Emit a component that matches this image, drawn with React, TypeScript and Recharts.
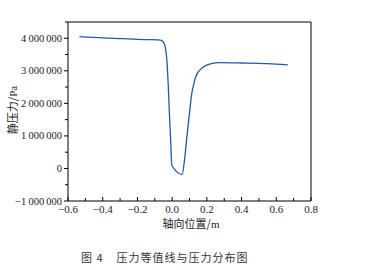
import React from 'react';
import { LineChart, Line, XAxis, YAxis, ReferenceLine } from 'recharts';

// axial position (m) and static pressure (Pa)
const positions = [
  -0.534, -0.4, -0.28, -0.15, -0.08, -0.06, -0.05, -0.04, -0.03, -0.022, -0.015, -0.008, -0.002,
  0.058, 0.071, 0.085, 0.1, 0.113, 0.123, 0.133, 0.145, 0.161, 0.19, 0.22, 0.277, 0.4, 0.55, 0.666,
];
const pressures = [
  4050000, 4010000, 3990000, 3960000, 3950000, 3930000, 3880000, 3740000, 3300000, 2500000, 1600000, 800000, 100000,
  -180000, 250000, 970000, 1700000, 2300000, 2550000, 2770000, 2920000, 3030000, 3150000, 3210000, 3250000, 3240000, 3220000, 3180000,
];

const xTicks = [-0.6, -0.5, -0.4, -0.3, -0.2, -0.1, 0, 0.1, 0.2, 0.3, 0.4, 0.5, 0.6, 0.7, 0.8];
const xLabels = ['\u22120.6', '\u22120.4', '\u22120.2', '0.0', '0.2', '0.4', '0.6', '0.8'];
const yTicks = [
  -1000000, -500000, 0, 500000, 1000000, 1500000, 2000000, 2500000, 3000000, 3500000, 4000000, 4500000,
];
const yLabels = ['\u22121\u2009000\u2009000', '0', '1\u2009000\u2009000', '2\u2009000\u2009000', '3\u2009000\u2009000', '4\u2009000\u2009000'];

const data = positions.map((x, i) => ({ x, p: pressures[i] }));

const serif = '"Liberation Serif", "DejaVu Serif", serif';
const cjk = '"Noto Sans CJK SC", sans-serif';

function XTick(props: any) {
  const { x, y, index } = props;
  const major = index % 2 === 0;
  return (
    <g>
      <line x1={x} x2={x} y1={y} y2={y - (major ? 4 : 3)} stroke="#000" strokeWidth={1} />
      {major && (
        <text x={x} y={y + 12} textAnchor="middle" fontSize={11} fontFamily={serif} fill="#222">
          {xLabels[index / 2]}
        </text>
      )}
    </g>
  );
}

function YTick(props: any) {
  const { x, y, index } = props;
  const major = index % 2 === 0;
  return (
    <g>
      <line x1={x} x2={x - (major ? 4 : 3)} y1={y} y2={y} stroke="#000" strokeWidth={1} />
      {major && (
        <text x={x - 6} y={y + 3.5} textAnchor="end" fontSize={10.5} fontFamily={serif} fill="#222">
          {yLabels[index / 2]}
        </text>
      )}
    </g>
  );
}

export default function App() {
  return (
    <div style={{ position: 'relative', width: 365, height: 270, background: '#fff' }}>
      <style>{'body{margin:0}'}</style>
      <LineChart width={365} height={270} data={data} margin={{ top: 22, right: 54, bottom: 49, left: 8 }}>
        <XAxis
          dataKey="x"
          type="number"
          domain={[-0.6, 0.8]}
          ticks={xTicks}
          interval={0}
          tickLine={false}
          tickSize={0}
          tickMargin={0}
          height={20}
          axisLine={{ stroke: '#000', strokeWidth: 1 }}
          tick={<XTick />}
        />
        <YAxis
          type="number"
          domain={[-1000000, 4500000]}
          ticks={yTicks}
          interval={0}
          tickLine={false}
          tickSize={0}
          tickMargin={0}
          width={60}
          axisLine={{ stroke: '#000', strokeWidth: 1 }}
          tick={<YTick />}
        />
        <ReferenceLine x={0.8} stroke="#000" strokeWidth={1} />
        <ReferenceLine y={4500000} stroke="#000" strokeWidth={1} />
        <Line
          dataKey="p"
          type="monotone"
          stroke="#1f5aa8"
          strokeWidth={1.3}
          dot={false}
          isAnimationActive={false}
        />
      </LineChart>
      <div
        style={{
          position: 'absolute',
          left: 12,
          top: 110,
          transform: 'translate(-50%, -50%) rotate(-90deg)',
          fontFamily: cjk,
          fontSize: 11,
          color: '#222',
          whiteSpace: 'nowrap',
        }}
      >
        静压力/<span style={{ fontFamily: serif }}>Pa</span>
      </div>
      <div
        style={{
          position: 'absolute',
          left: 191,
          top: 223,
          transform: 'translate(-50%, -50%)',
          fontFamily: cjk,
          fontSize: 11,
          color: '#222',
          whiteSpace: 'nowrap',
        }}
      >
        轴向位置/<span style={{ fontFamily: serif }}>m</span>
      </div>
      <div
        style={{
          position: 'absolute',
          left: 81,
          top: 249,
          fontFamily: cjk,
          fontSize: 11,
          letterSpacing: 1,
          color: '#333',
          whiteSpace: 'nowrap',
        }}
      >
        图 4<span style={{ display: 'inline-block', width: 13 }} />压力等值线与压力分布图
      </div>
    </div>
  );
}
